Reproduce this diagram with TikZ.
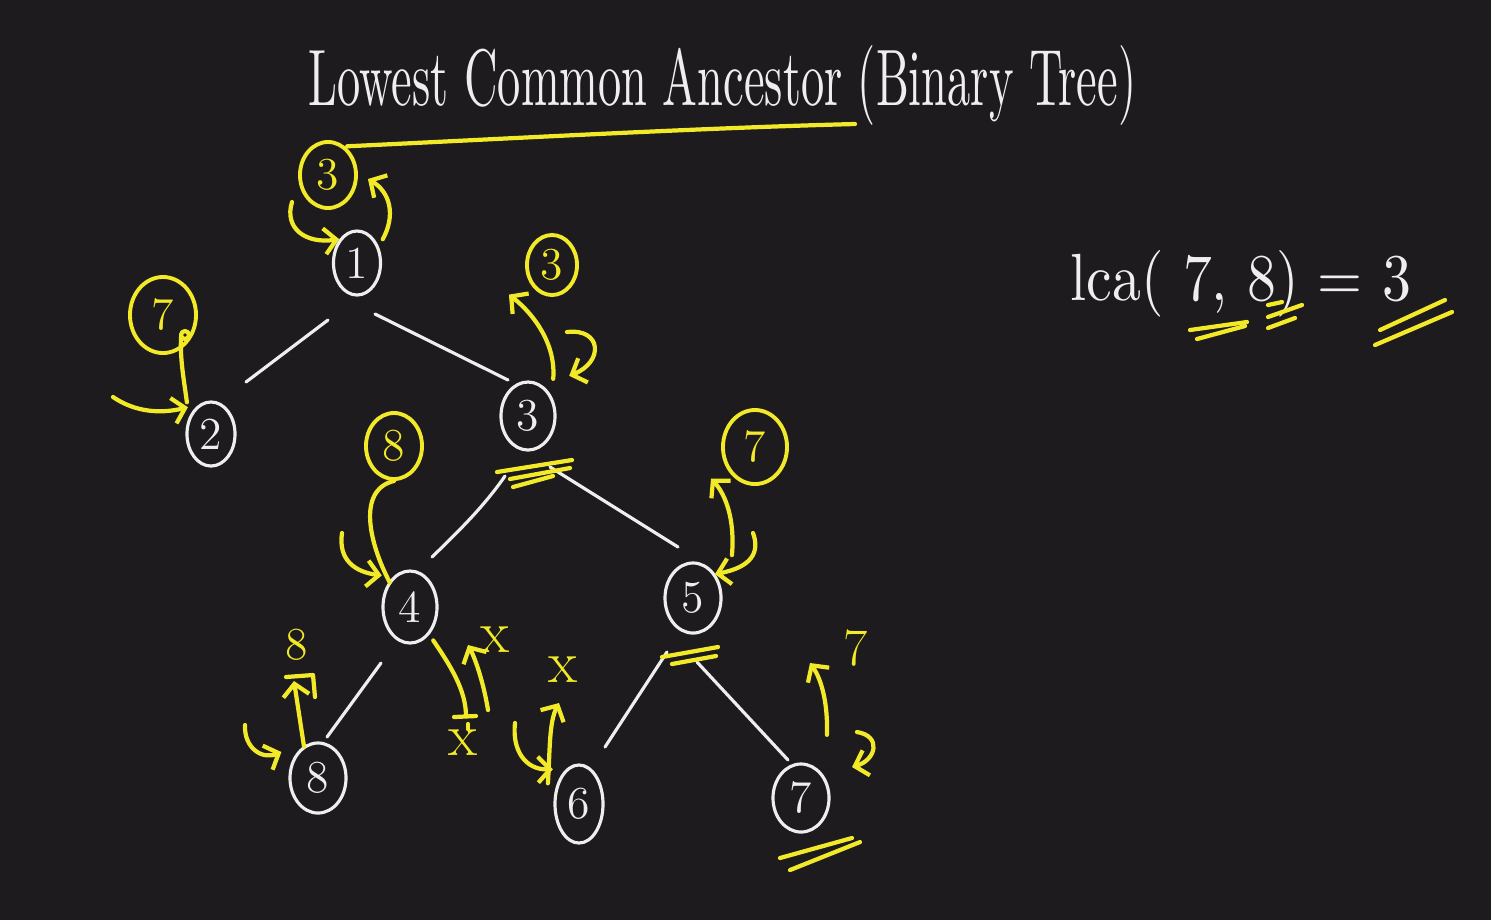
\documentclass[tikz,border=0pt]{standalone}
\usetikzlibrary{shapes.geometric,arrows.meta,calc}
\definecolor{bgc}{RGB}{29,27,29}
\definecolor{yel}{RGB}{242,234,40}
\definecolor{chalk}{RGB}{238,238,238}
\begin{document}
\begin{tikzpicture}[x=0.01cm,y=-0.01cm,
  wnode/.style={ellipse, draw=chalk, line width=0.9pt, inner sep=0pt, text=chalk, font=\fontsize{13}{13}\selectfont},
  ynode/.style={ellipse, draw=yel, line width=1.1pt, inner sep=0pt, text=yel, font=\fontsize{13}{13}\selectfont},
  edge/.style={draw=chalk, line width=0.9pt, line cap=round},
  yline/.style={draw=yel, line width=1.2pt, line cap=round, line join=round},
  yarr/.style={yline, -{Straight Barb[length=1.2mm,width=2.6mm]}},
  ylab/.style={text=yel, inner sep=0pt, font=\fontsize{13}{13}\selectfont},
  xlab/.style={text=yel, inner sep=0pt, font=\fontsize{17}{17}\selectfont},
]
\fill[bgc] (0,0) rectangle (1491,920);
\useasboundingbox (0,0) rectangle (1491,920);

% title
\node[anchor=base west, inner sep=0pt, text=chalk] (title) at (308,105)
  {\resizebox{8.27cm}{0.6cm}{Lowest Common Ancestor (Binary Tree)}};

% white tree nodes
\node[wnode, minimum width=0.47cm, minimum height=0.64cm] (n1) at (357,263) {1};
\node[wnode, minimum width=0.48cm, minimum height=0.64cm] (n2) at (211,434) {2};
\node[wnode, minimum width=0.54cm, minimum height=0.68cm] (w3) at (528,416) {3};
\node[wnode, minimum width=0.54cm, minimum height=0.72cm] (n4) at (410,607) {4};
\node[wnode, minimum width=0.56cm, minimum height=0.70cm] (n5) at (693,598) {5};
\node[wnode, minimum width=0.56cm, minimum height=0.70cm] (n8) at (318,778) {8};
\node[wnode, minimum width=0.48cm, minimum height=0.78cm] (n6) at (579,804) {6};
\node[wnode, minimum width=0.56cm, minimum height=0.68cm] (n7) at (801,798) {7};

% yellow return-value circles
\node[ynode, minimum width=0.56cm, minimum height=0.66cm] (y3a) at (328,175) {3};
\node[ynode, minimum width=0.66cm, minimum height=0.76cm] (y7a) at (163,315) {7};
\node[ynode, minimum width=0.50cm, minimum height=0.60cm] (y3b) at (552,265) {3};
\node[ynode, minimum width=0.56cm, minimum height=0.66cm] (y8)  at (394,446) {8};
\node[ynode, minimum width=0.64cm, minimum height=0.74cm] (y7b) at (755,447) {7};

% tree edges
\draw[edge] ($(n1)+(-29,57)$) -- ($(n2)+(35,-52)$);
\draw[edge] ($(n1)+(18,51)$) -- ($(w3)+(-20,-36)$);
\draw[edge] ($(w3)+(-23,60)$) .. controls (485,505) and (460,530) .. ($(n4)+(22,-50)$);
\draw[edge] ($(w3)+(22,51)$) -- ($(n5)+(-15,-51)$);
\draw[edge] ($(n4)+(-29,56)$) -- ($(n8)+(9,-41)$);
\draw[edge] ($(n5)+(-26,54)$) -- ($(n6)+(26,-57)$);
\draw[edge] ($(n5)+(4,64)$) -- ($(n7)+(-13,-38)$);

% title underline from the top 3
\coordinate (ulend) at (855,124);
\draw[yline] ($(y3a.north east)+(-2,-4)$) .. controls (520,138) and (700,128) .. (ulend);

% around node 1
\coordinate (a1s) at (292,202);
\draw[yarr] (a1s) .. controls (284,228) and (305,244) .. (n1.north west);
\draw[yarr] ($(n1.north east)+(8,0)$) .. controls (396,215) and (390,192) .. ($(y3a.east)+(10,4)$);

% around node 2
\coordinate (a2s) at (113,397);
\draw[yarr] (a2s) .. controls (135,412) and (160,414) .. ($(n2.north west)+(-5,-3)$);
\draw[yline] ($(n2.north west)+(-6,-8)$) .. controls (184,380) and (180,360) .. ($(y7a)+(18,22)$);
\draw[yline] ($(y7a)+(22,20)$) circle[radius=4];

% around white 3
\draw[yarr] ($(w3.north east)+(5,-12)$) .. controls (556,345) and (535,315) .. ($(y3b.south west)+(-24,7)$);
\coordinate (h3s) at (567,332);
\draw[yarr] (h3s) .. controls (602,328) and (604,362) .. ($(w3.north east)+(21,-15)$);
\draw[yline] ($(w3)+(-31,56)$) -- ($(w3)+(44,44)$);
\draw[yline] ($(w3)+(-18,63)$) -- ($(w3)+(42,52)$);
\draw[yline] ($(w3)+(-15,71)$) -- ($(w3)+(25,60)$);

% around node 4
\coordinate (a4s) at (342,533);
\draw[yarr] (a4s) .. controls (338,560) and (355,572) .. ($(n4.north west)+(-8,-5)$);
\draw[yline] ($(n4.north west)+(0,2)$) .. controls (370,545) and (356,490) .. (y8.south);
\draw[yline] ($(n4.north east)+(3,60)$) .. controls (450,665) and (466,690) .. (466,716) coordinate (t4);
\draw[yline] ($(t4)+(-12,1)$) -- ($(t4)+(10,0)$);
\draw[yline] ($(t4)+(2,8)$) -- ($(t4)+(2,13)$);
\node[xlab] (x4a) at (463,743) {x};
\coordinate (u4s) at (488,710);
\draw[yarr] (u4s) .. controls (484,685) and (476,660) .. (468,645);
\node[xlab] (x4b) at (495,640) {x};

% around node 5
\draw[yarr] ($(n5.north east)+(18,-17)$) .. controls (735,520) and (726,495) .. ($(y7b.south west)+(-20,4)$);
\coordinate (h5s) at (753,533);
\draw[yarr] (h5s) .. controls (760,552) and (752,567) .. ($(n5.north east)+(1,2)$);
\draw[yline] ($(n5)+(-31,59)$) -- ($(n5)+(25,49)$);
\draw[yline] ($(n5)+(-21,66)$) -- ($(n5)+(23,58)$);

% around node 8
\coordinate (a8s) at (245,725);
\draw[yarr] (a8s) .. controls (244,748) and (262,760) .. ($(n8.west)+(-7,-26)$);
\draw[yarr] ($(n8.north)+(-14,5)$) -- (294,681);
\draw[yline] (286,677) -- (313,675) -- (315,697);
\node[ylab] (l8) at (297,645) {8};

% around node 6
\node[xlab] (x6) at (563,670) {x};
\draw[yarr] ($(n6.north west)+(-13,8)$) .. controls (550,750) and (549,722) .. (559,703);
\coordinate (a6s) at (515,723);
\draw[yarr] (a6s) .. controls (512,750) and (525,770) .. ($(n6.north west)+(-8,-6)$);

% around node 7
\draw[yarr] ($(n7.north east)+(5,-38)$) .. controls (828,705) and (822,680) .. (810,663);
\node[ylab, font=\fontsize{15}{15}\selectfont] (l7) at (856,648) {7};
\coordinate (h7s) at (857,732);
\draw[yarr] (h7s) .. controls (882,736) and (876,760) .. (852,767);
\draw[yline] ($(n7)+(-21,60)$) -- ($(n7)+(51,40)$);
\draw[yline] ($(n7)+(-11,72)$) -- ($(n7)+(59,44)$);

% lca result
\node[anchor=base west, inner sep=0pt, text=chalk] (lca) at (1070,300)
  {\resizebox{3.4cm}{0.5cm}{lca( 7, 8) = 3}};
\draw[yline] (1190,330) -- (1247,322);
\draw[yline] (1197,339) -- (1245,326);
\draw[yline] (1268,305) -- (1282,302);
\draw[yline] (1268,317) -- (1302,305);
\draw[yline] (1268,328) -- (1295,318);
\draw[yline] (1380,330) -- (1445,300);
\draw[yline] (1375,345) -- (1452,312);
\end{tikzpicture}
\end{document}
